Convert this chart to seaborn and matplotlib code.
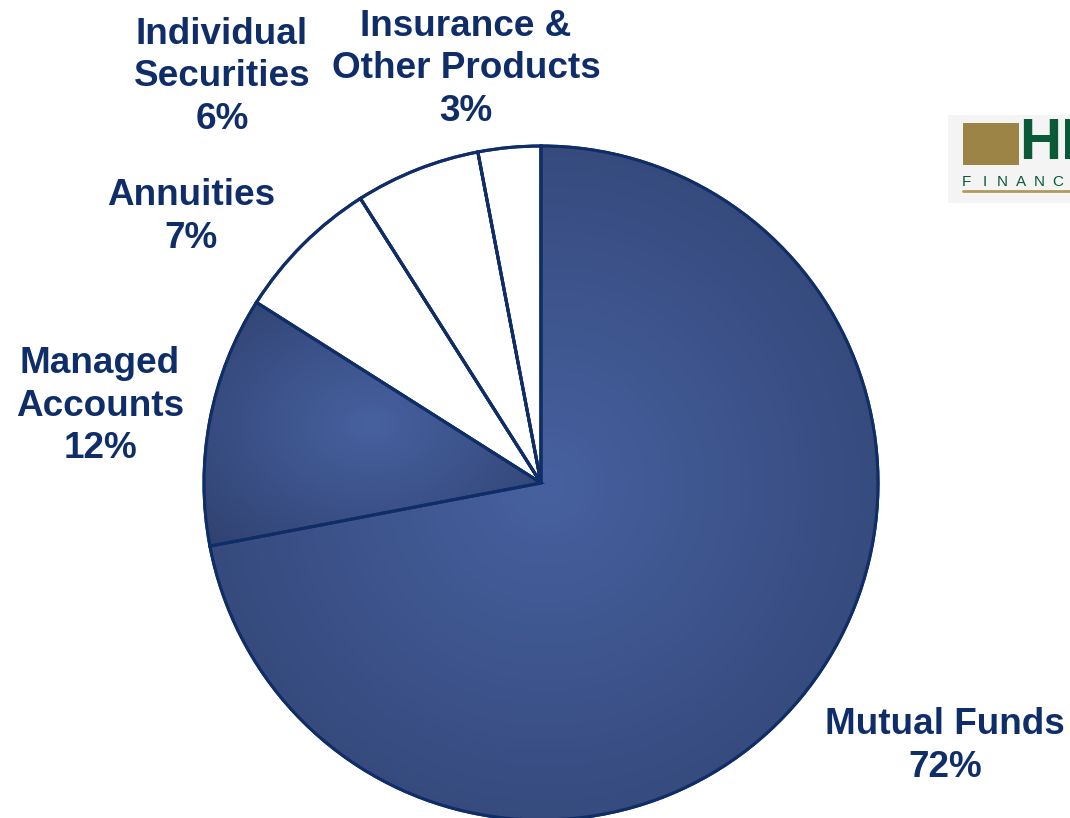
import numpy as np
import matplotlib
matplotlib.use("Agg")
import matplotlib.pyplot as plt
import seaborn as sns
from matplotlib.colors import to_rgb
from matplotlib.patches import Rectangle, PathPatch

categories = ["Mutual Funds", "Managed Accounts", "Annuities",
              "Individual Securities", "Insurance & Other Products"]
values = [72, 12, 7, 6, 3]
label_texts = ["Mutual Funds\n72%", "Managed\nAccounts\n12%", "Annuities\n7%",
               "Individual\nSecurities\n6%", "Insurance &\nOther Products\n3%"]
filled = [True, True, False, False, False]

sns.set_theme(style="white")
plt.rcParams['font.family'] = ['Liberation Sans', 'DejaVu Sans']

W, H = 1070, 818
navy = "#0f2d67"
text_col = "#0f2e69"
light = np.array(to_rgb("#4761a0"))
dark = np.array(to_rgb("#2f416f"))

fig = plt.figure(figsize=(10.7, 8.18), dpi=100)
fig.patch.set_facecolor("white")
ax = fig.add_axes([0, 0, 1, 1])

cx, cy, R = 541, H - 483, 337
colors = ["#3d5389" if f else "white" for f in filled]
wedges, _ = ax.pie(values, startangle=90, counterclock=False, center=(cx, cy),
                   radius=R, colors=colors,
                   wedgeprops=dict(edgecolor=navy, linewidth=2.2))
ax.set_xlim(0, W)
ax.set_ylim(0, H)
ax.set_aspect('equal')
ax.axis('off')

# radial gradient fill for the blue wedges
xs = np.linspace(0, W, W)
ys = np.linspace(0, H, H)
X, Y = np.meshgrid(xs, ys)
for w, f in zip(wedges, filled):
    if not f:
        continue
    verts = w.get_path().vertices
    x0, x1 = verts[:, 0].min(), verts[:, 0].max()
    y0, y1 = verts[:, 1].min(), verts[:, 1].max()
    gx, gy = (x0 + x1) / 2, (y0 + y1) / 2
    hw, hh = (x1 - x0) / 2, (y1 - y0) / 2
    d = np.sqrt(((X - gx) / hw) ** 2 + ((Y - gy) / hh) ** 2) / np.sqrt(2)
    d = np.clip(d, 0, 1)
    img = light[None, None, :] * (1 - d[..., None]) + dark[None, None, :] * d[..., None]
    im = ax.imshow(img, extent=(0, W, 0, H), origin='lower', zorder=w.get_zorder() + 0.1,
                   interpolation='bilinear')
    im.set_clip_path(w)
for w in wedges:
    ax.add_patch(PathPatch(w.get_path(), transform=w.get_transform(),
                           facecolor='none', edgecolor=navy, linewidth=2.2, zorder=5))

label_pos = [(945, 746), (100, 406), (191, 217), (222, 77), (466, 69)]
for txt, (px, py) in zip(label_texts, label_pos):
    ax.text(px, H - py, txt, ha='center', va='center', multialignment='center',
            fontsize=26.6, fontweight='bold', color=text_col, linespacing=1.29, zorder=6)

# logo (partially cut at the right edge, as in the reference)
ax.add_patch(Rectangle((948, H - 203), 130, 88, facecolor="#f4f4f4", edgecolor='none', zorder=1))
ax.add_patch(Rectangle((963, H - 165), 56, 42, facecolor="#9b8446", edgecolor='none', zorder=2))
ax.text(1019, H - 144, "HI", ha='left', va='center', fontsize=42, fontweight='bold',
        color="#0b5a37", zorder=3)
for i, ch in enumerate("FINANC"):
    ax.text(966 + i * 18.3, H - 182, ch, ha='center', va='center', fontsize=11,
            color="#0b5a37", zorder=3)
ax.plot([963, 1070], [H - 191, H - 191], color="#b09a5c", lw=2, zorder=3)

fig.savefig("out.png", dpi=100, facecolor="white")
